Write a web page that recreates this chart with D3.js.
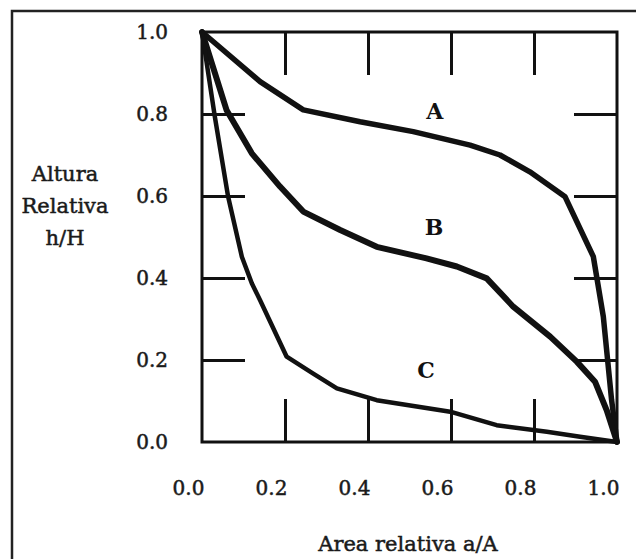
<!DOCTYPE html>
<html>
<head>
<meta charset="utf-8">
<script src="https://cdn.jsdelivr.net/npm/d3@7"></script>
<style>
  body { margin: 0; background: #fff; }
  svg { display: block; }
</style>
</head>
<body>
<svg id="chart" width="636" height="559"></svg>
<script>
// curve A
const areaA = [0, 0.14, 0.244, 0.381, 0.509, 0.646, 0.718, 0.79, 0.875, 0.943, 0.967, 0.987, 1]
const heightA = [1, 0.879, 0.81, 0.781, 0.757, 0.724, 0.7, 0.659, 0.598, 0.452, 0.306, 0.102, 0]
// curve B
const areaB = [0, 0.059, 0.12, 0.188, 0.244, 0.333, 0.421, 0.541, 0.614, 0.686, 0.75, 0.839, 0.903, 0.947, 0.975, 1]
const heightB = [1, 0.81, 0.704, 0.623, 0.562, 0.517, 0.476, 0.448, 0.428, 0.399, 0.33, 0.257, 0.196, 0.147, 0.078, 0]
// curve C
const areaC = [0, 0.031, 0.063, 0.096, 0.12, 0.14, 0.204, 0.268, 0.325, 0.421, 0.598, 0.71, 0.831, 0.911, 1]
const heightC = [1, 0.793, 0.598, 0.452, 0.387, 0.346, 0.208, 0.167, 0.131, 0.102, 0.074, 0.041, 0.025, 0.013, 0]

const seriesNames = ['A', 'B', 'C']
const labelArea = [0.561, 0.559, 0.54]
const labelHeight = [0.807, 0.524, 0.176]

const tickValues = [0, 0.2, 0.4, 0.6, 0.8, 1.0]
const yTitle = ['Altura', 'Relativa', 'h/H']
const xTitle = 'Area relativa a/A'

const svg = d3.select('#chart')
const font = '"DejaVu Serif", "Liberation Serif", serif'

svg.append('rect')
  .attr('width', 636).attr('height', 559).attr('fill', '#fff')

// outer frame (only top and left edges show)
svg.append('path')
  .attr('d', 'M12,559 L12,11 L636,11')
  .attr('fill', 'none')
  .attr('stroke', '#222')
  .attr('stroke-width', 2.5)

const x = d3.scaleLinear().domain([0, 1]).range([202, 617])
const y = d3.scaleLinear().domain([0, 1]).range([442, 32])

const inner = [0.2, 0.4, 0.6, 0.8]
const tickLen = 43

function styleTicks(g) {
  g.select('.domain').remove()
  g.selectAll('line').attr('stroke', '#111').attr('stroke-width', 3)
}

svg.append('g').attr('transform', `translate(0, ${y(0)})`)
  .call(d3.axisBottom(x).tickValues(inner).tickSize(-tickLen).tickFormat(''))
  .call(styleTicks)
svg.append('g').attr('transform', `translate(0, ${y(1)})`)
  .call(d3.axisTop(x).tickValues(inner).tickSize(-tickLen).tickFormat(''))
  .call(styleTicks)
svg.append('g').attr('transform', `translate(${x(0)}, 0)`)
  .call(d3.axisLeft(y).tickValues(inner).tickSize(-tickLen).tickFormat(''))
  .call(styleTicks)
svg.append('g').attr('transform', `translate(${x(1)}, 0)`)
  .call(d3.axisRight(y).tickValues(inner).tickSize(-tickLen).tickFormat(''))
  .call(styleTicks)

// plot box
svg.append('rect')
  .attr('x', x(0)).attr('y', y(1))
  .attr('width', x(1) - x(0)).attr('height', y(0) - y(1))
  .attr('fill', 'none')
  .attr('stroke', '#111')
  .attr('stroke-width', 3)

function inkText(sel, size) {
  sel.attr('font-family', font).attr('font-size', size)
    .attr('fill', '#1a1a1a')
    .attr('stroke', '#1a1a1a').attr('stroke-width', 0.5)
}

// tick labels (the printed labels sit a bit left of the grid)
const xLab = svg.append('g').attr('transform', `translate(-14, ${y(0) + 36})`)
  .call(d3.axisBottom(x).tickValues(tickValues).tickSize(0).tickFormat(d3.format('.1f')))
xLab.select('.domain').remove()
xLab.selectAll('text').call(inkText, 20)

const yLab = svg.append('g').attr('transform', `translate(${x(0)}, 0)`)
  .call(d3.axisLeft(y).tickValues(tickValues).tickSize(0).tickPadding(34).tickFormat(d3.format('.1f')))
yLab.select('.domain').remove()
yLab.selectAll('text').call(inkText, 20)

// curves
const line = d3.line().x(d => x(d[0])).y(d => y(d[1]))
const curves = [
  { pts: d3.zip(areaA, heightA), w: 5.5 },
  { pts: d3.zip(areaB, heightB), w: 6 },
  { pts: d3.zip(areaC, heightC), w: 4.5 }
]
svg.selectAll('path.curve')
  .data(curves)
  .enter().append('path')
  .attr('class', 'curve')
  .attr('d', d => line(d.pts))
  .attr('fill', 'none')
  .attr('stroke', '#111')
  .attr('stroke-width', d => d.w)
  .attr('stroke-linejoin', 'round')
  .attr('stroke-linecap', 'round')

svg.selectAll('text.series')
  .data(seriesNames)
  .enter().append('text')
  .attr('class', 'series')
  .attr('x', (d, i) => x(labelArea[i]))
  .attr('y', (d, i) => y(labelHeight[i]))
  .attr('dy', '0.36em')
  .attr('text-anchor', 'middle')
  .attr('font-family', font)
  .attr('font-size', 22)
  .attr('font-weight', 'bold')
  .attr('fill', '#111')
  .text(d => d)

// axis titles
svg.append('g').selectAll('text')
  .data(yTitle)
  .enter().append('text')
  .attr('x', 65)
  .attr('y', (d, i) => 173 + i * 32)
  .attr('dy', '0.36em')
  .attr('text-anchor', 'middle')
  .call(inkText, 21)
  .text(d => d)

svg.append('text')
  .attr('x', 408).attr('y', 543)
  .attr('dy', '0.36em')
  .attr('text-anchor', 'middle')
  .call(inkText, 21)
  .text(xTitle)
</script>
</body>
</html>
